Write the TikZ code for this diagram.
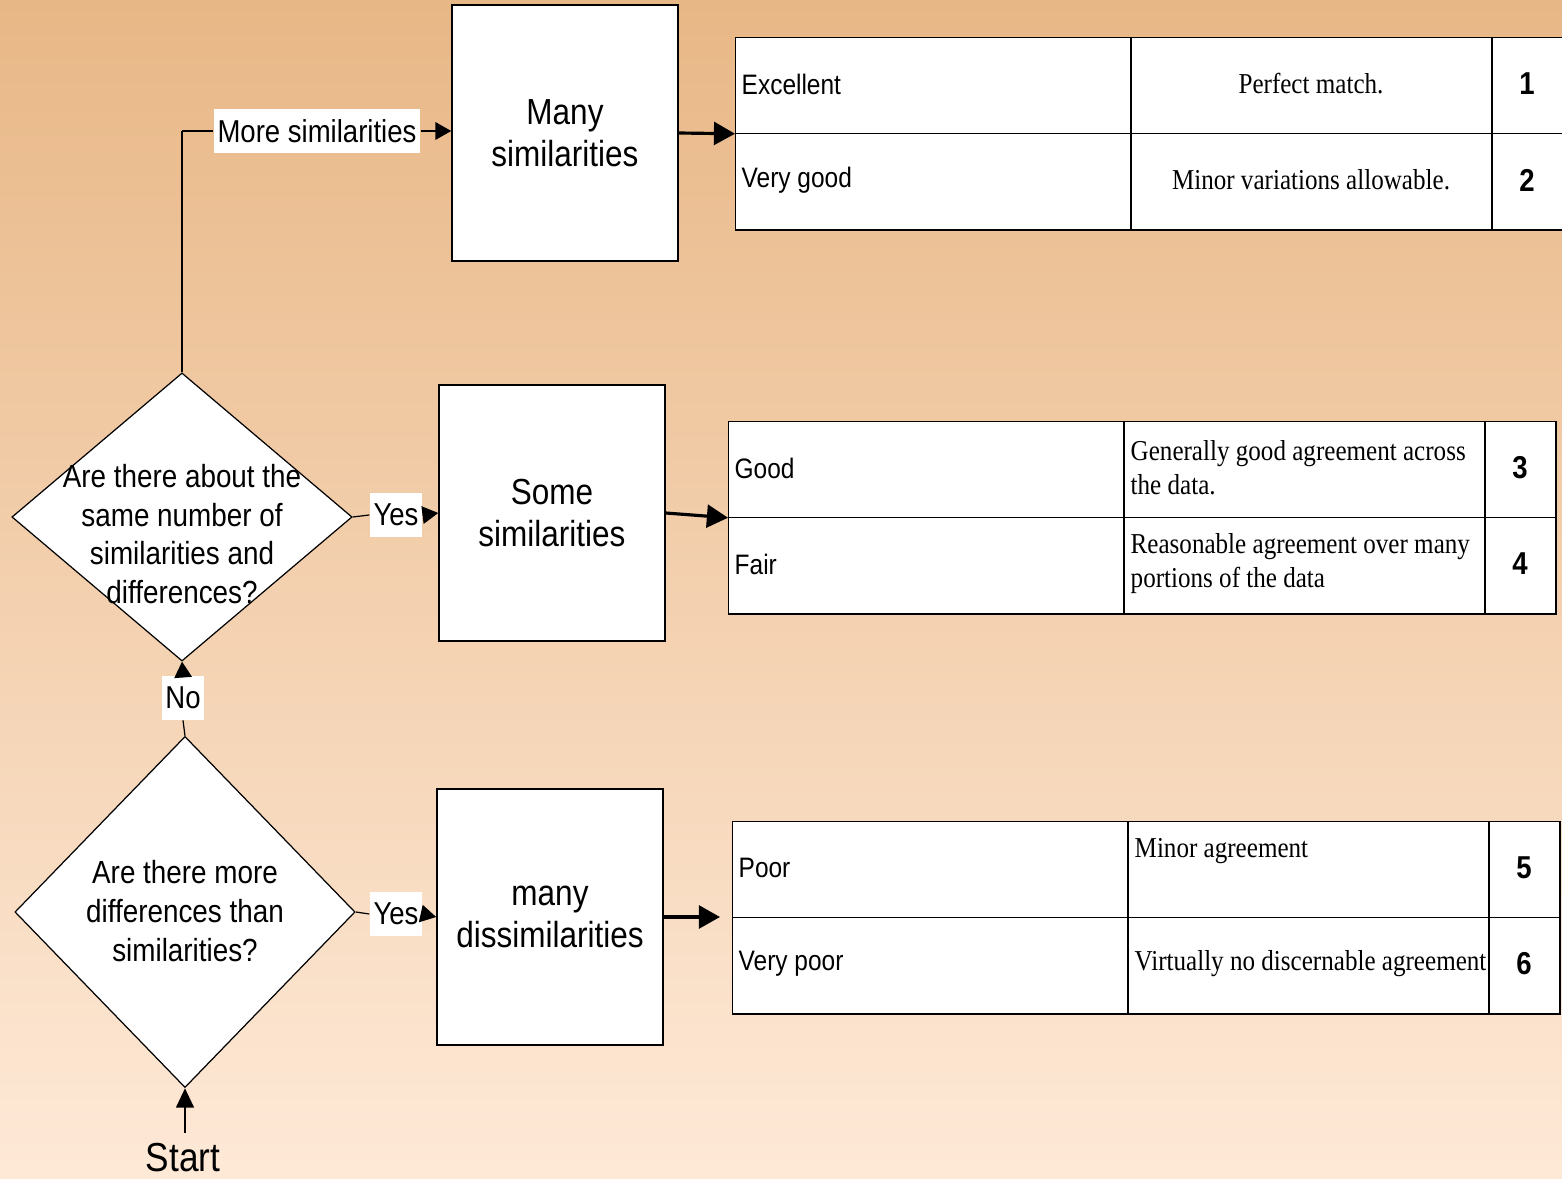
\documentclass[tikz,border=0pt]{standalone}
\usepackage{fontspec}
\setmainfont[FakeStretch=0.87]{Liberation Sans}
\newfontfamily\descfont[FakeStretch=0.87]{Liberation Serif}
\usetikzlibrary{arrows.meta,shapes.geometric}

\definecolor{bgtop}{RGB}{232,183,134}
\definecolor{bgbot}{RGB}{254,233,215}

\tikzset{
	box/.style={draw, fill=white, line width=0.4pt, minimum width=2.26cm, minimum height=2.56cm, inner sep=0pt, align=center, font=\fontsize{10.3}{12}\selectfont},
	decision/.style={diamond, draw, fill=white, line width=0.35pt, inner sep=0pt, minimum width=3.4cm},
	question/.style={inner sep=0pt, align=center, font=\fontsize{9.1}{11}\selectfont},
	tabframe/.style={draw, fill=white, anchor=north west, minimum width=8.27cm, minimum height=1.92cm, inner sep=0pt, line width=0.4pt},
	tag/.style={fill=white, inner xsep=1pt, inner ysep=0pt, minimum height=12.3pt, font=\fontsize{9}{9}\selectfont},
	grade/.style={anchor=west, inner sep=0pt, font=\fontsize{8}{8}\selectfont},
	desc/.style={anchor=west, inner sep=0pt, align=left, font=\descfont\fontsize{8.2}{9.7}\selectfont},
	num/.style={inner sep=0pt, font=\bfseries\fontsize{9}{9}\selectfont},
	flow/.style={-{Triangle[length=4.5pt,width=5pt]}, line width=0.35pt},
	bigflow/.style={-{Triangle[length=6pt,width=6.5pt]}, line width=0.9pt},
}

\begin{document}
\begin{tikzpicture}[x=0.01cm, y=-0.01cm]
	\useasboundingbox (0,0) rectangle (1562,1179);
	\shade[top color=bgtop, bottom color=bgbot] (0,0) rectangle (1562,1179);

	% decisions and outcomes
	\node[decision, minimum height=2.88cm] (same) at (182,517) {};
	\node[question] (sameq) at (182,534) {Are there about the\\same number of\\similarities and\\differences?};
	\node[decision, minimum height=3.51cm] (diff) at (185,912) {};
	\node[question] (diffq) at (185,911) {Are there more\\differences than\\similarities?};

	\node[box] (many) at (565,133) {Many\\similarities};
	\node[box] (some) at (552,513) {Some\\similarities};
	\node[box] (dis) at (550,917) {many\\dissimilarities};

	\node[tag] (more) at (317,131) {More similarities};
	\node[tag] (yes1) at (396,515) {Yes};
	\node[tag] (no) at (183,698) {No};
	\node[tag] (yes2) at (396,914) {Yes};
	\node[inner sep=0pt, anchor=base, font=\fontsize{11.5}{11.5}\selectfont] (start) at (183,1172) {Start};

	% rating tables
	\node[tabframe] (t1) at (735,37) {};
	\node[tabframe] (t2) at (728,421) {};
	\node[tabframe] (t3) at (732,821) {};
	\foreach \t in {t1,t2,t3}
		\draw[line width=0.4pt] (\t.west) -- (\t.east);
	\draw[line width=0.4pt] (1131,37) -- (1131,229);
	\draw[line width=0.8pt] (1492,37) -- (1492,229);
	\draw[line width=0.4pt] (1124,421) -- (1124,613);
	\draw[line width=0.8pt] (1485,421) -- (1485,613);
	\draw[line width=0.4pt] (1128,821) -- (1128,1013);
	\draw[line width=0.8pt] (1489,821) -- (1489,1013);
	\coordinate (t3in) at (720,917);

	\node[grade] (exc) at (741,84) {Excellent};
	\node[grade] (vgood) at (741,180) {Very good};
	\node[desc, anchor=center] (perf) at (1311,84) {Perfect match.};
	\node[desc, anchor=center] (minv) at (1311,180) {Minor variations allowable.};
	\node[num] (n1) at (1527,84) {1};
	\node[num] (n2) at (1527,180) {2};

	\node[grade] (good) at (734,468) {Good};
	\node[grade] (fair) at (734,564) {Fair};
	\node[desc] (genag) at (1130,468) {Generally good agreement across\\the data.};
	\node[desc] (reas) at (1130,564) {Reasonable agreement over many\\portions of the data};
	\node[num] (n3) at (1520,468) {3};
	\node[num] (n4) at (1520,564) {4};

	\node[grade] (poor) at (738,868) {Poor};
	\node[grade] (vpoor) at (738,964) {Very poor};
	\node[desc, anchor=north west] (minag) at (1134,838) {Minor agreement};
	\node[desc] (virt) at (1134,964) {Virtually no discernable agreement};
	\node[num] (n5) at (1524,868) {5};
	\node[num] (n6) at (1524,964) {6};

	% connectors
	\draw[line width=0.7pt] (same.north) -- (same.north|-more);
	\draw[line width=0.35pt] (same.north|-more) -- (more.west);
	\draw[flow] (more.east) -- (more.east-|many.west);
	\draw[line width=0.35pt] (same.east) -- (yes1.west);
	\draw[flow] (yes1.east) -- (some.west);
	\draw[line width=0.35pt] (diff.north) -- (no.south);
	\draw[flow] (no.north) -- (same.south);
	\draw[line width=0.35pt] (diff.east) -- (yes2.west);
	\draw[flow] (yes2.east) -- (dis.west);
	\draw[-{Triangle[length=5.5pt,width=5pt]}, line width=0.7pt] ([yshift=3pt]start.north-|diff.south) -- (diff.south);

	\draw[bigflow] (many.east) -- (t1.west);
	\draw[bigflow] (some.east) -- (t2.west);
	\draw[bigflow] (dis.east) -- (t3in);
\end{tikzpicture}
\end{document}
